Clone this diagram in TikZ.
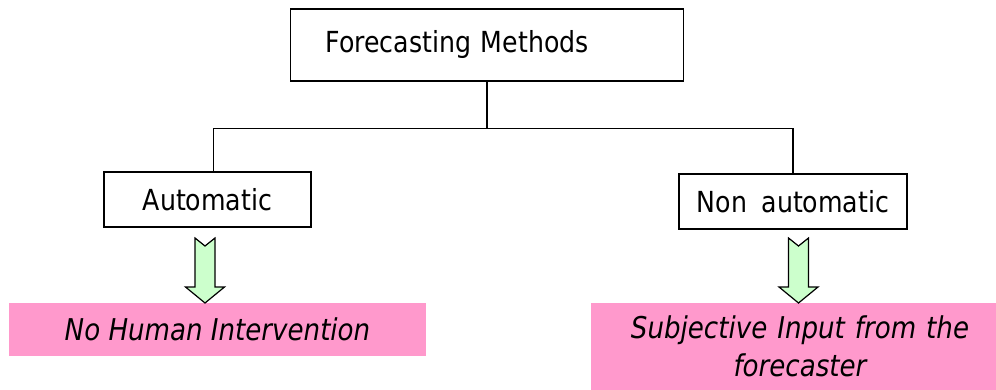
\documentclass[tikz,border=0pt]{standalone}
\usepackage{fontspec}
\setmainfont[FakeStretch=0.87]{DejaVu Sans}
\begin{document}
\begin{tikzpicture}[x=1pt,y=-1pt,
  box/.style={draw=black,line width=1.3pt,fill=white,inner sep=0pt,font=\fontsize{29}{34}\selectfont},
  pinkbox/.style={fill=pinkc,draw=none,inner sep=0pt,font=\fontsize{30}{38}\selectfont\itshape,align=center},
  conn/.style={line width=1.3pt},
  blockarrow/.pic={\draw[line width=1.2pt,fill=greenc,line join=miter]
     (-10,0) -- (0,8) -- (10,0) -- (10,49) -- (19.5,49) -- (0,65) -- (-19.5,49) -- (-10,49) -- cycle;}]
\definecolor{pinkc}{HTML}{FF99CC}
\definecolor{greenc}{HTML}{CCFFCC}
\useasboundingbox (0,0) rectangle (996,390);
\node[box,minimum width=393pt,minimum height=72pt,text width=323pt,inner xsep=35pt,align=left] (top) at (487,45) {Forecasting Methods};
\node[box,minimum width=207pt,minimum height=55pt] (auto) at (207.5,199.5) {Automatic};
\node[box,minimum width=228pt,minimum height=55pt] (nonauto) at (793,201.5) {Non\hspace{0.5em}automatic};
\draw[conn] (top.south) -- ++(0,47) coordinate (split);
\draw[conn] (split) -| ([xshift=6pt]auto.north);
\draw[conn] (split) -| (nonauto.north);
\node[pinkbox,minimum width=417pt,minimum height=53pt] (human) at (217.5,329.5) {No Human Intervention};
\node[pinkbox,minimum width=405pt,minimum height=88pt,text width=391pt,inner xsep=0pt] (subj) at (793.5,346.5) {\hspace*{13pt}Subjective Input from the\\\hspace*{13pt}forecaster};
\coordinate (a1) at (205,238);
\coordinate (a2) at (798.5,238);
\pic at (a1) {blockarrow};
\pic at (a2) {blockarrow};
\end{tikzpicture}
\end{document}
